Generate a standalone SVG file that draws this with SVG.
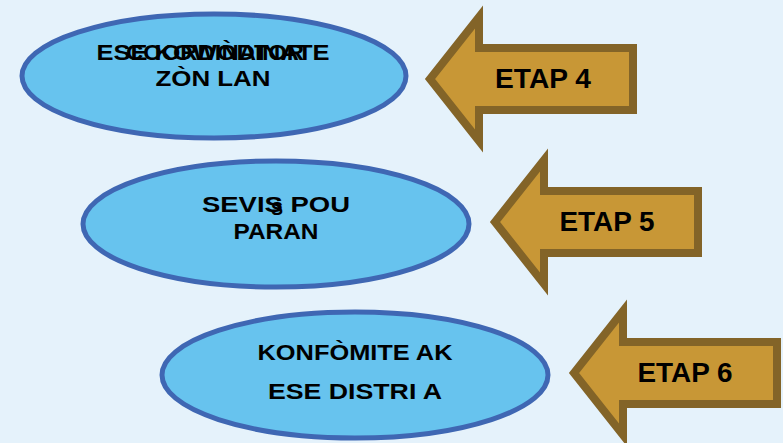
<svg xmlns="http://www.w3.org/2000/svg" xmlns:xlink="http://www.w3.org/1999/xlink" width="783" height="443" viewBox="0 0 783 443">
<style>
.oval{fill:#67C3EE;stroke:#3F67B3;stroke-width:5}
.arr{fill:#C89736;stroke:#836428;stroke-width:8;stroke-linejoin:miter;stroke-miterlimit:10}
.t{font-family:"Liberation Sans",Arial,sans-serif;font-weight:bold;fill:#000;text-anchor:middle}
.e{font-size:22px}
.a{font-size:27px}
</style>
<defs>
<path id="arrow" d="M7,0 L56,-62 L56,-31 L210,-31 L210,31 L56,31 L56,62 Z"/>
</defs>
<rect width="783" height="443" fill="#E5F2FB"/>
<g id="connectors">
<g id="arrow4"><use xlink:href="#arrow" class="arr" transform="translate(423,79)"/><text class="t a" x="543" y="88" textLength="96" lengthAdjust="spacingAndGlyphs">ETAP 4</text></g>
<g id="arrow5"><use xlink:href="#arrow" class="arr" transform="translate(488,222)"/><text class="t a" x="607" y="231" textLength="95" lengthAdjust="spacingAndGlyphs">ETAP 5</text></g>
<g id="arrow6"><use xlink:href="#arrow" class="arr" transform="translate(567,373)"/><text class="t a" x="685" y="382" textLength="95" lengthAdjust="spacingAndGlyphs">ETAP 6</text></g>
</g>
<g id="node1">
<ellipse class="oval" cx="214" cy="76" rx="192" ry="62"/>
<text class="t e" x="213" y="60" textLength="233" lengthAdjust="spacingAndGlyphs">ESE KOWÒDINATE</text>
<text class="t e" x="215" y="60" textLength="178" lengthAdjust="spacingAndGlyphs">COORDINATOR</text>
<text class="t e" x="213" y="86" textLength="115" lengthAdjust="spacingAndGlyphs">ZÒN LAN</text>
</g>
<g id="node2">
<ellipse class="oval" cx="276" cy="224" rx="193" ry="63"/>
<text class="t e" x="276" y="212" textLength="148" lengthAdjust="spacingAndGlyphs">SEVIS POU</text>
<text class="t" x="277" y="215" font-size="18">S</text>
<text class="t e" x="276" y="239" textLength="85" lengthAdjust="spacingAndGlyphs">PARAN</text>
</g>
<g id="node3">
<ellipse class="oval" cx="355" cy="375" rx="193" ry="63"/>
<text class="t e" x="355" y="360" textLength="195" lengthAdjust="spacingAndGlyphs">KONFÒMITE AK</text>
<text class="t e" x="355" y="399" textLength="174" lengthAdjust="spacingAndGlyphs">ESE DISTRI A</text>
</g>
</svg>
